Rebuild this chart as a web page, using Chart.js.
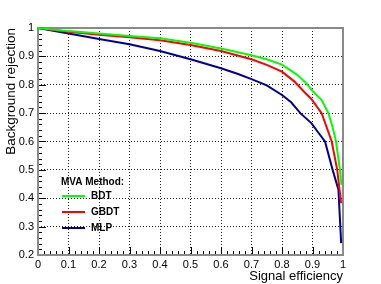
<!DOCTYPE html>
<html>
<head>
<meta charset="utf-8">
<script src="https://cdn.jsdelivr.net/npm/chart.js@4"></script>
<style>
  body { margin: 0; background: #fff; }
</style>
</head>
<body>
<canvas id="roc" width="381" height="284"></canvas>
<script>
// curvas ROC
var methods = ['BDT', 'GBDT', 'MLP'];
var legendTitle = 'MVA Method:';

var effBDT = [0, 0.1, 0.2, 0.3, 0.4, 0.5, 0.6, 0.7, 0.75, 0.8, 0.85, 0.88, 0.9, 0.93, 0.952, 0.966, 0.977, 0.99, 0.995];
var rejBDT = [1, 0.989, 0.981, 0.972, 0.964, 0.948, 0.928, 0.904, 0.89, 0.871, 0.835, 0.805, 0.778, 0.746, 0.70, 0.65, 0.60, 0.50, 0.447];

var effGBDT = [0, 0.1, 0.2, 0.3, 0.4, 0.5, 0.6, 0.7, 0.75, 0.8, 0.84, 0.87, 0.896, 0.93, 0.963, 0.981, 0.992, 0.994];
var rejGBDT = [1, 0.987, 0.976, 0.967, 0.957, 0.940, 0.919, 0.890, 0.870, 0.846, 0.812, 0.778, 0.75, 0.70, 0.60, 0.50, 0.40, 0.383];

var effMLP = [0, 0.05, 0.1, 0.2, 0.3, 0.4, 0.5, 0.6, 0.656, 0.7, 0.75, 0.8, 0.83, 0.86, 0.897, 0.92, 0.941, 0.966, 0.985, 0.994];
var rejMLP = [1, 0.99, 0.981, 0.961, 0.943, 0.919, 0.890, 0.858, 0.838, 0.82, 0.798, 0.764, 0.738, 0.70, 0.664, 0.63, 0.60, 0.50, 0.43, 0.242];

var xTicks = [0, 0.1, 0.2, 0.3, 0.4, 0.5, 0.6, 0.7, 0.8, 0.9, 1];
var yTicks = [0.2, 0.3, 0.4, 0.5, 0.6, 0.7, 0.8, 0.9, 1];

var fuente = 'Liberation Sans, Arial, Helvetica, sans-serif';

function puntos(xs, ys) {
    return xs.map(function (x, i) { return { x: x, y: ys[i] }; });
}

// marco gris y marcas menores tipo ROOT
var marcoPlugin = {
    id: 'marco',
    beforeDatasetsDraw: function (chart) {
        var ctx = chart.ctx;
        var a = chart.chartArea;
        var sx = chart.scales.x, sy = chart.scales.y;
        ctx.save();
        ctx.strokeStyle = '#000';
        ctx.lineWidth = 1;
        ctx.beginPath();
        for (var i = 0; i <= 50; i++) {
            var v = i / 50;
            var px = Math.round(sx.getPixelForValue(v)) + 0.5;
            var len = (i % 5 === 0) ? 8 : 4;
            ctx.moveTo(px, a.bottom);
            ctx.lineTo(px, a.bottom - len);
        }
        for (var j = 0; j <= 40; j++) {
            var w = 0.2 + j / 50;
            var py = Math.round(sy.getPixelForValue(w)) + 0.5;
            var len2 = (j % 5 === 0) ? 8 : 4;
            ctx.moveTo(a.left, py);
            ctx.lineTo(a.left + len2, py);
        }
        ctx.stroke();
        ctx.strokeStyle = '#8a8a8a';
        ctx.lineWidth = 2;
        ctx.strokeRect(a.left, a.top, a.right - a.left, a.bottom - a.top);
        ctx.restore();
    }
};

// leyenda dentro del area del grafico
var leyendaPlugin = {
    id: 'leyenda',
    afterDatasetsDraw: function (chart) {
        var ctx = chart.ctx;
        ctx.save();
        ctx.font = 'bold 10px ' + fuente;
        ctx.textBaseline = 'middle';
        ctx.fillStyle = '#000';
        ctx.fillText(legendTitle, 61, 182);
        chart.data.datasets.forEach(function (ds, k) {
            var y = 196 + k * 16;
            ctx.strokeStyle = ds.borderColor;
            ctx.lineWidth = 2;
            ctx.beginPath();
            ctx.moveTo(62, y);
            ctx.lineTo(85, y);
            ctx.stroke();
            ctx.fillStyle = '#000';
            ctx.fillText(ds.label, 91, y);
        });
        ctx.restore();
    }
};

var ctx = document.getElementById('roc').getContext('2d');

var chart = new Chart(ctx, {
    type: 'line',
    data: {
        datasets: [{
            label: methods[0],
            data: puntos(effBDT, rejBDT),
            borderColor: '#00ff00'
        }, {
            label: methods[1],
            data: puntos(effGBDT, rejGBDT),
            borderColor: '#ff0000'
        }, {
            label: methods[2],
            data: puntos(effMLP, rejMLP),
            borderColor: '#000099'
        }]
    },
    options: {
        responsive: false,
        animation: false,
        devicePixelRatio: 1,
        layout: { padding: { left: 0, top: 28, right: 38, bottom: 0 } },
        elements: {
            line: { borderWidth: 2, tension: 0, fill: false },
            point: { radius: 0 }
        },
        datasets: { line: { clip: false } },
        plugins: {
            legend: { display: false },
            tooltip: { enabled: false }
        },
        scales: {
            x: {
                type: 'linear',
                min: 0,
                max: 1,
                afterBuildTicks: function (s) { s.ticks = xTicks.map(function (v) { return { value: v }; }); },
                afterFit: function (s) { s.height = 29; },
                ticks: {
                    autoSkip: false,
                    maxRotation: 0,
                    padding: 3,
                    color: '#000',
                    font: { family: fuente, size: 11 },
                    callback: function (v) { return String(+v.toFixed(1)); }
                },
                grid: { color: '#222', lineWidth: 1, drawTicks: false },
                border: { display: false, dash: [1, 2] },
                title: {
                    display: true,
                    text: 'Signal efficiency',
                    align: 'end',
                    color: '#000',
                    padding: 0,
                    font: { family: fuente, size: 13 }
                }
            },
            y: {
                type: 'linear',
                min: 0.2,
                max: 1,
                afterBuildTicks: function (s) { s.ticks = yTicks.map(function (v) { return { value: v }; }); },
                afterFit: function (s) { s.width = 38; },
                ticks: {
                    autoSkip: false,
                    padding: 4,
                    color: '#000',
                    font: { family: fuente, size: 11 },
                    callback: function (v) { return String(+v.toFixed(1)); }
                },
                grid: { color: '#222', lineWidth: 1, drawTicks: false },
                border: { display: false, dash: [1, 2] },
                title: {
                    display: true,
                    text: 'Background rejection',
                    align: 'end',
                    color: '#000',
                    padding: 3,
                    font: { family: fuente, size: 13.5 }
                }
            }
        }
    },
    plugins: [marcoPlugin, leyendaPlugin]
});
</script>
</body>
</html>
